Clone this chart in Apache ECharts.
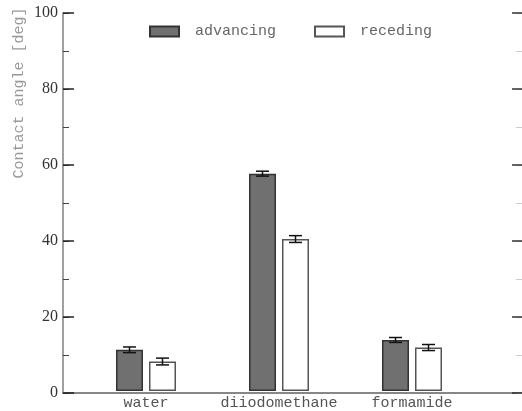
<!DOCTYPE html>
<html>
<head>
<meta charset="utf-8">
<script src="https://cdn.jsdelivr.net/npm/echarts@6/dist/echarts.min.js"></script>
<style>
  html, body { margin: 0; padding: 0; background: #fff; }
  #chart { width: 522px; height: 411px; }
</style>
</head>
<body>
<div id="chart"></div>
<script>
// Contact angles of three probe liquids (degrees)
var categories = ['water', 'diiodomethane', 'formamide'];
var advancing = [10.9, 57.5, 13.5];
var receding = [7.8, 40.2, 11.5];
var advancingErr = [0.75, 0.65, 0.65];
var recedingErr = [0.9, 0.9, 0.8];
var yTicks = [0, 20, 40, 60, 80, 100];

var BAR_W = 27, BAR_GAP = 6;
var MONO = '"Liberation Mono", "DejaVu Sans Mono", monospace';
var SERIF = '"Liberation Serif", "DejaVu Serif", serif';

function errorSeries(name, vals, errs, side) {
  return {
    type: 'custom',
    name: name + ' err',
    xAxisIndex: 2, yAxisIndex: 4,
    z: 10,
    silent: true,
    data: vals.map(function (v, i) { return [i, v, errs[i]]; }),
    renderItem: function (params, api) {
      var i = api.value(0), v = api.value(1), e = api.value(2);
      var hi = api.coord([i, v + e]);
      var lo = api.coord([i, v - e]);
      var cx = hi[0] + side * (BAR_W + BAR_GAP) / 2;
      var hw = 6.5;
      var st = { stroke: '#111', lineWidth: 1.5 };
      return {
        type: 'group',
        children: [
          { type: 'line', shape: { x1: cx, y1: hi[1], x2: cx, y2: lo[1] }, style: st },
          { type: 'line', shape: { x1: cx - hw, y1: hi[1], x2: cx + hw, y2: hi[1] }, style: st },
          { type: 'line', shape: { x1: cx - hw, y1: lo[1], x2: cx + hw, y2: lo[1] }, style: st }
        ]
      };
    }
  };
}

var chart = echarts.init(document.getElementById('chart'), null, { renderer: 'canvas' });

var frameLine = { show: true, lineStyle: { color: '#808080', width: 1.5 } };
var noLine = { show: false };

// minor ticks every 10, major ticks every 20 (drawn by a second overlapping axis)
function minorAxis(pos, color, showLabels, line) {
  return {
    gridIndex: 0, type: 'value', min: 0, max: 100, interval: 10, position: pos,
    axisLine: line,
    axisTick: { show: true, inside: true, length: 6, lineStyle: { color: color, width: 1 } },
    axisLabel: showLabels ? {
      margin: 5, fontFamily: SERIF, fontSize: 16, color: '#333',
      formatter: function (v) { return yTicks.indexOf(v) >= 0 ? String(v) : ''; }
    } : { show: false },
    splitLine: { show: false }
  };
}
function majorAxis(pos, len, color) {
  return {
    gridIndex: 0, type: 'value', min: 0, max: 100, interval: 20, position: pos,
    axisLine: noLine,
    axisTick: { show: true, inside: true, length: len, lineStyle: { color: color, width: 1.5 } },
    axisLabel: { show: false }, splitLine: { show: false }
  };
}

chart.setOption({
  animation: false,
  backgroundColor: '#fff',
  grid: [
    { left: 63, top: 13, width: 464, height: 380 },
    { left: 79.5, top: 13, width: 399, height: 380 }
  ],
  legend: {
    top: 19, left: 144,
    icon: 'rect',
    itemWidth: 29, itemHeight: 10, itemGap: 38,
    data: ['advancing', 'receding'],
    textStyle: { fontFamily: MONO, fontSize: 15, color: '#666', padding: [0, 0, 0, 11] }
  },
  xAxis: [
    { gridIndex: 0, type: 'value', min: 0, max: 1, position: 'bottom',
      axisLine: frameLine, axisTick: { show: false }, axisLabel: { show: false }, splitLine: { show: false } },
    { gridIndex: 0, type: 'value', min: 0, max: 1, position: 'top',
      axisLine: frameLine, axisTick: { show: false }, axisLabel: { show: false }, splitLine: { show: false } },
    { gridIndex: 1, type: 'category', data: categories,
      axisLine: { show: false }, axisTick: { show: false }, splitLine: { show: false },
      axisLabel: { interval: 0, margin: 5, fontFamily: MONO, fontSize: 15, color: '#555' } }
  ],
  yAxis: [
    minorAxis('left', '#444', true, frameLine),
    majorAxis('left', 11, '#222'),
    minorAxis('right', '#ccc', false, noLine),
    majorAxis('right', 10, '#333'),
    { gridIndex: 1, type: 'value', min: 0, max: 100, show: false }
  ],
  graphic: [{
    type: 'text',
    x: 19, y: 93,
    rotation: Math.PI / 2,
    style: {
      text: 'Contact angle [deg]',
      fontFamily: MONO, fontSize: 15, fill: '#999',
      align: 'center', verticalAlign: 'middle'
    }
  }],
  series: [
    { type: 'bar', name: 'advancing', xAxisIndex: 2, yAxisIndex: 4,
      data: advancing, barWidth: BAR_W, barGap: (BAR_GAP / BAR_W * 100) + '%',
      itemStyle: { color: '#707070', borderColor: '#333', borderWidth: 1.5 } },
    { type: 'bar', name: 'receding', xAxisIndex: 2, yAxisIndex: 4,
      data: receding, barWidth: BAR_W,
      itemStyle: { color: '#ffffff', borderColor: '#555', borderWidth: 1.5 } },
    errorSeries('advancing', advancing, advancingErr, -1),
    errorSeries('receding', receding, recedingErr, 1)
  ]
});
</script>
</body>
</html>
